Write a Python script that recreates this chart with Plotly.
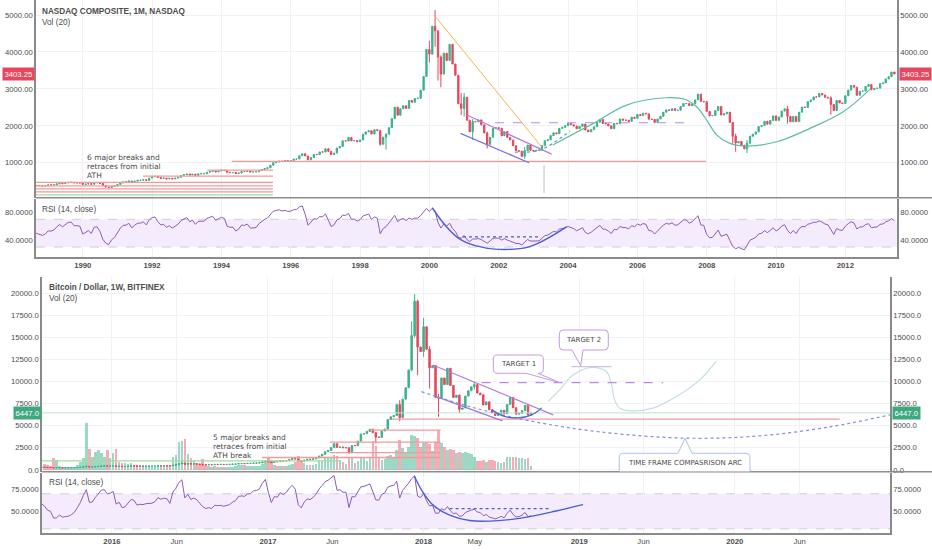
import numpy as np
import pandas as pd
import plotly.graph_objects as go

W, H = 932, 550

UP = "#3bb28a"
DOWN = "#e8465c"
VOL_UP = "rgba(59,178,138,0.5)"
VOL_DOWN = "rgba(232,70,92,0.45)"
RSI_LINE = "#8e5bb5"
RSI_BAND = "#f4ebfd"
GRID = "#f1f1f4"
AXIS = "#8a8a8a"
TEXT = "#4d4d4d"
SANS = "Liberation Sans, Arial, sans-serif"
NOTE = "DejaVu Sans, Verdana, sans-serif"

# ---------------- NASDAQ Composite, monthly closes, Jan 1987 .. Jun 2013 ----------------
nasdaq_start = "1987-01-01"
nasdaq_close = [
    392, 424, 430, 417, 416, 425, 435, 455, 444, 323, 305, 331,              # 1987
    345, 367, 374, 379, 370, 394, 387, 376, 387, 382, 372, 381,              # 1988
    401, 400, 406, 427, 446, 435, 453, 469, 472, 456, 456, 454,              # 1989
    415, 425, 435, 420, 459, 462, 438, 381, 344, 329, 359, 374,              # 1990
    414, 453, 482, 485, 506, 475, 502, 525, 527, 542, 523, 586,              # 1991
    620, 633, 603, 579, 585, 563, 580, 563, 583, 605, 652, 677,              # 1992
    696, 670, 690, 661, 700, 704, 704, 743, 763, 779, 754, 777,              # 1993
    800, 793, 743, 733, 735, 706, 723, 766, 764, 777, 750, 752,              # 1994
    755, 793, 817, 843, 864, 933, 1001, 1020, 1044, 1036, 1059, 1052,        # 1995
    1060, 1100, 1101, 1191, 1243, 1185, 1081, 1141, 1227, 1221, 1293, 1291,  # 1996
    1380, 1309, 1222, 1261, 1400, 1442, 1594, 1587, 1686, 1594, 1601, 1570,  # 1997
    1619, 1771, 1835, 1868, 1779, 1895, 1872, 1499, 1694, 1771, 1950, 2193,  # 1998
    2505, 2288, 2461, 2543, 2471, 2686, 2638, 2739, 2746, 2966, 3336, 4069,  # 1999
    3940, 4697, 4573, 3861, 3401, 3966, 3767, 4206, 3673, 3370, 2598, 2471,  # 2000
    2773, 2152, 1840, 2116, 2110, 2161, 2027, 1805, 1499, 1690, 1931, 1950,  # 2001
    1934, 1731, 1845, 1688, 1616, 1463, 1328, 1315, 1172, 1330, 1479, 1336,  # 2002
    1321, 1338, 1341, 1464, 1596, 1623, 1735, 1810, 1787, 1932, 1960, 2003,  # 2003
    2066, 2030, 1994, 1920, 1987, 2048, 1887, 1838, 1897, 1975, 2097, 2175,  # 2004
    2062, 2052, 1999, 1922, 2068, 2057, 2185, 2152, 2152, 2120, 2233, 2205,  # 2005
    2306, 2281, 2340, 2323, 2179, 2172, 2091, 2184, 2258, 2367, 2432, 2415,  # 2006
    2464, 2416, 2422, 2525, 2605, 2603, 2546, 2596, 2702, 2859, 2661, 2652,  # 2007
    2390, 2271, 2279, 2413, 2523, 2293, 2326, 2368, 2092, 1721, 1536, 1577,  # 2008
    1476, 1378, 1529, 1717, 1774, 1835, 1979, 2009, 2122, 2045, 2145, 2269,  # 2009
    2147, 2238, 2398, 2461, 2257, 2109, 2255, 2114, 2369, 2507, 2498, 2653,  # 2010
    2700, 2782, 2781, 2874, 2835, 2774, 2756, 2579, 2415, 2684, 2620, 2605,  # 2011
    2814, 2967, 3091, 3046, 2827, 2935, 2940, 3067, 3116, 2977, 3010, 3020,  # 2012
    3142, 3160, 3268, 3329, 3456, 3403.25,                                   # 2013
]
# months with visible wicks: (high, low)
nasdaq_wicks = {
    "1998-08": (1890, 1462), "1998-10": (1800, 1357),
    "2000-01": (4303, 3711), "2000-03": (5132, 4140), "2000-04": (4574, 3227),
    "2000-05": (3908, 3042), "2000-12": (2890, 2288), "2001-01": (2892, 2251),
    "2001-04": (2183, 1619), "2001-09": (1842, 1387), "2002-10": (1426, 1108),
    "2008-10": (2100, 1493), "2008-11": (1786, 1295), "2009-03": (1615, 1265),
    "2010-05": (2535, 2061), "2011-08": (2800, 2299),
}
nasdaq_last = "3403.25"

# ---------------- Bitcoin / Dollar, weekly closes, week of 5 Jan 2015 .. 10 Sep 2018 ----------------
btc_start = "2015-01-05"
btc_close = [
    270, 210, 255, 226, 227, 235, 245, 255, 275, 285, 262, 248, 255,                       # Jan-Mar 2015
    254, 222, 226, 236, 240, 237, 240, 230, 225, 233, 245, 250, 258, 290, 272, 290,       # Apr-Jul 2015
    281, 265, 260, 228, 229, 240, 230, 232, 233, 238, 246, 262, 284, 325, 372, 320,
    323, 357, 388, 434, 441, 422, 430,                                                     # to Dec 2015
    448, 385, 401, 368, 375, 405, 437, 432, 405, 412, 410, 417, 420,                       # 2016
    420, 430, 457, 451, 458, 456, 439, 525, 574, 680, 760, 630, 700,
    650, 675, 660, 620, 590, 570, 581, 573, 609, 606, 609, 602, 612,
    617, 640, 655, 700, 705, 703, 730, 732, 765, 770, 790, 890, 998,
    910, 820, 925, 920, 1020, 1000, 1050, 1170, 1270, 1230, 1020, 965, 1095,               # 2017
    1190, 1180, 1240, 1350, 1560, 1750, 2050, 2200, 2520, 2960, 2540, 2580, 2500,
    2500, 1920, 2750, 2740, 3250, 4050, 4100, 4350, 4600, 4200, 3700, 3680, 4400,
    4620, 5700, 6000, 6150, 7400, 5900, 8000, 9300, 11300, 15200, 19100, 13900, 13400,
    16200, 13650, 11550, 11800, 8200, 8100, 10400, 9650, 11500, 9550, 8200, 8450, 6850,    # 2018
    7000, 8350, 8950, 9400, 9650, 8700, 8500, 7350, 7700, 6800, 6500, 6150, 6400,
    6750, 6350, 7400, 8200, 7030, 6300, 6400, 6700, 7300, 6200, 6447,
]
# weekly volume, week of 27 Jul 2015 onwards (heights as read on the overlay)
btc_volume = [
    650, 500, 450, 1350, 1100, 450, 350, 300, 280, 300, 350, 550, 900, 1300, 5250, 2350,
    1500, 2050, 2250, 1900, 1500, 2300, 1300,
    1900, 2400, 900, 800, 750, 700, 800, 600, 550, 500, 450, 400, 380,
    350, 350, 500, 450, 400, 380, 420, 1500, 1700, 3200, 3300, 3500, 1800,
    1300, 1000, 800, 700, 1200, 500, 400, 350, 380, 350, 320, 300, 300,
    300, 350, 380, 500, 550, 500, 450, 400, 450, 400, 450, 700, 900,
    1300, 1100, 500, 400, 450, 400, 450, 550, 650, 900, 1600, 1000, 800,
    600, 500, 550, 700, 1100, 1000, 1300, 1400, 1500, 1700, 1600, 1100, 900,
    700, 1300, 1500, 800, 1000, 1500, 1400, 1000, 1300, 3300, 2700, 1400, 1100,
    1200, 1600, 1700, 1300, 2300, 3400, 2500, 2000, 2600, 3900, 3800, 3600, 2600,
    3000, 3200, 2900, 2100, 3200, 4500, 3000, 2600, 2200, 2400, 2200, 1900, 2000,
    1900, 2000, 1900, 1800, 1400, 1000, 950, 1100, 900, 1100, 1150, 1000, 900,
    800, 900, 1400, 1500, 1400, 1400, 1300, 1350, 1250, 1300, 400,
]
btc_wicks = {
    "2015-11-02": (502, 320), "2016-06-20": (770, 550), "2016-08-01": (630, 480),
    "2017-01-02": (1150, 850), "2017-07-10": (2570, 1830), "2017-09-11": (4300, 2980),
    "2017-11-06": (7880, 5500), "2017-12-04": (16800, 11150), "2017-12-11": (19900, 15000),
    "2017-12-18": (19250, 10700), "2018-01-01": (17200, 12800), "2018-01-15": (14000, 9200),
    "2018-02-05": (8600, 6000), "2018-03-26": (8550, 6450), "2018-04-30": (9990, 9100),
}
btc_last = "6447.0"

# ---------------- tick labels ----------------
top_ticks = ["%d-01-01" % y for y in range(1990, 2013, 2)]
top_text = ["<b>%d</b>" % y for y in range(1990, 2013, 2)]
btc_ticks = ["2016-01-01", "2016-06-01", "2017-01-01", "2017-06-01", "2018-01-01",
             "2018-05-01", "2019-01-01", "2019-06-01", "2020-01-01", "2020-06-01"]
btc_text = ["<b>2016</b>", "Jun", "<b>2017</b>", "Jun", "<b>2018</b>",
            "May", "<b>2019</b>", "Jun", "<b>2020</b>", "Jun"]


def px(x):
    return x / W


def py(y):
    return 1 - y / H


def ohlc(dates, closes, wicks, key_fmt):
    close = pd.Series(closes, index=dates, dtype=float)
    open_ = close.shift(1).fillna(close)
    both = pd.concat([open_, close], axis=1)
    high = both.max(axis=1)
    low = both.min(axis=1)
    keys = dates.strftime(key_fmt)
    for k, (h, l) in wicks.items():
        m = keys == k
        high[m] = h
        low[m] = l
    return open_, high, low, close


def rsi(closes, n=14):
    # Wilder's RSI, seeded with a simple average of the first n moves
    c = np.asarray(closes, dtype=float)
    d = np.diff(c, prepend=np.nan)
    gain = np.where(d > 0, d, 0.0)
    loss = np.where(d < 0, -d, 0.0)
    ag = np.full(len(c), np.nan)
    al = np.full(len(c), np.nan)
    ag[n] = gain[1:n + 1].mean()
    al[n] = loss[1:n + 1].mean()
    for i in range(n + 1, len(c)):
        ag[i] = (ag[i - 1] * (n - 1) + gain[i]) / n
        al[i] = (al[i - 1] * (n - 1) + loss[i]) / n
    return 100 - 100 / (1 + ag / al)


def line(xs, ys, xa, ya, color, width=1.2, dash=None, shape="linear"):
    return go.Scatter(x=xs, y=ys, xaxis=xa, yaxis=ya, mode="lines",
                      line=dict(color=color, width=width, dash=dash, shape=shape),
                      hoverinfo="skip", showlegend=False)


nq_dates = pd.date_range(nasdaq_start, periods=len(nasdaq_close), freq="MS")
nq_o, nq_h, nq_l, nq_c = ohlc(nq_dates, nasdaq_close, nasdaq_wicks, "%Y-%m")
nq_rsi = rsi(nasdaq_close)

bt_dates = pd.date_range(btc_start, periods=len(btc_close), freq="7D")
bt_o, bt_h, bt_l, bt_c = ohlc(bt_dates, btc_close, btc_wicks, "%Y-%m-%d")
bt_rsi = rsi(btc_close)
vol_dates = bt_dates[-len(btc_volume):]
vol_colors = [VOL_UP if c >= o else VOL_DOWN
              for o, c in zip(bt_o[-len(btc_volume):], bt_c[-len(btc_volume):])]

fig = go.Figure()

# ---- NASDAQ panel ----
fig.add_trace(go.Candlestick(
    x=nq_dates, open=nq_o, high=nq_h, low=nq_l, close=nq_c, xaxis="x", yaxis="y",
    increasing=dict(line=dict(color=UP, width=1), fillcolor=UP),
    decreasing=dict(line=dict(color=DOWN, width=1), fillcolor=DOWN),
    whiskerwidth=0, hoverinfo="skip", showlegend=False))
fig.add_trace(line(nq_dates, nq_rsi, "x", "y3", RSI_LINE, 1))
fig.add_trace(line(nq_dates[-1:], [nq_c.iloc[-1]], "x", "y2", "rgba(0,0,0,0)", 0))
fig.add_trace(line(nq_dates[-1:], [50], "x", "y4", "rgba(0,0,0,0)", 0))

# drawings on the NASDAQ chart
for x0, x1, p in [("1994-04-20", "2007-12-24", 1037), ("1993-08-04", "1995-06-28", 802),
                  ("1991-09-27", "1995-06-28", 639), ("1988-08-26", "1995-06-28", 469),
                  ("1988-08-26", "1995-06-28", 376), ("1988-08-26", "1995-06-28", 295),
                  ("1988-08-26", "1995-06-28", 214)]:
    fig.add_trace(line([x0, x1], [p, p], "x", "y", "#f29a9a", 1.3))
fig.add_trace(line(["1988-08-26", "1995-06-28"], [133, 133], "x", "y", "#9fdc9f", 1.3))
fig.add_trace(line(["2000-02-28", "2003-03-28"], [4973, 1433], "x", "y", "#f5b54a", 1))
fig.add_trace(line(["2001-01-30", "2003-07-12"], [2291, 1235], "x", "y", "#b57ad8", 1.2))
fig.add_trace(line(["2000-11-24", "2002-11-17"], [1796, 999], "x", "y", "#7d6fe0", 1.2))
fig.add_trace(line(["2001-11-22", "2007-05-27"], [2083, 2083], "x", "y", "#b98ae0", 1, "dash"))
fig.add_trace(line(["2002-06-21", "2003-03-10", "2004-01-19"], [1289, 1343, 1858],
                   "x", "y", "#6f8fd8", 1.2, "dot", "spline"))
fig.add_trace(line(["2003-04-23", "2003-04-23"], [937, 179], "x", "y", "#b7c2cc", 1))
fig.add_trace(line(
    ["2003-07-25", "2004-09-24", "2005-09-09", "2006-11-03", "2007-06-03", "2007-09-17",
     "2008-01-01", "2008-04-16", "2008-09-02", "2009-02-25", "2010-01-08", "2010-12-24",
     "2011-12-09", "2012-09-16"],
    [1479, 2067, 2562, 2760, 2698, 2516, 2156, 1750, 1525, 1452, 1568, 1931, 2381, 2988],
    "x", "y", "#5cbf9c", 1.2, None, "spline"))
fig.add_trace(line(
    ["2000-01-30", "2000-07-01", "2000-11-17", "2001-04-27", "2001-12-28", "2002-11-24", "2003-12-16"],
    [86.7, 59.0, 41.4, 32.1, 26.7, 30.7, 59.0], "x", "y3", "#4a5fd0", 1.4, None, "spline"))
fig.add_trace(line(["2000-12-20", "2003-03-10"], [44.7, 44.7], "x", "y3", "#4a5fd0", 1.2, "dot"))

# ---- Bitcoin panel ----
fig.add_trace(go.Bar(x=vol_dates, y=btc_volume, xaxis="x2", yaxis="y5",
                     marker=dict(color=vol_colors, line=dict(width=0)),
                     width=6 * 86400000, hoverinfo="skip", showlegend=False))
fig.add_trace(go.Candlestick(
    x=bt_dates, open=bt_o, high=bt_h, low=bt_l, close=bt_c, xaxis="x2", yaxis="y5",
    increasing=dict(line=dict(color=UP, width=1), fillcolor=UP),
    decreasing=dict(line=dict(color=DOWN, width=1), fillcolor=DOWN),
    whiskerwidth=0, hoverinfo="skip", showlegend=False))
fig.add_trace(line(bt_dates, bt_rsi, "x2", "y8", RSI_LINE, 1))
fig.add_trace(line(bt_dates[-1:], [bt_c.iloc[-1]], "x2", "y6", "rgba(0,0,0,0)", 0))
fig.add_trace(line(bt_dates[-1:], [50], "x2", "y9", "rgba(0,0,0,0)", 0))

for x0, x1, p in [("2017-10-18", "2020-09-03", 5735), ("2017-08-28", "2018-02-10", 4491),
                  ("2017-05-26", "2018-02-10", 3133), ("2017-05-26", "2018-02-10", 1957),
                  ("2016-12-18", "2018-02-10", 1391)]:
    fig.add_trace(line([x0, x1], [p, p], "x2", "y5", "#f29a9a", 1.3))
fig.add_trace(line(["2015-07-21", "2017-06-18"], [1018, 1018], "x2", "y5", "#9fdc9f", 1.3))
fig.add_trace(line(["2015-07-21", "2020-12-30"], [6447, 6447], "x2", "y5", "#b5e3cc", 1))
fig.add_trace(line(["2018-01-23", "2018-11-01"], [11878, 6222], "x2", "y5", "#b57ad8", 1.2))
fig.add_trace(line(["2018-01-31", "2018-07-05"], [8292, 5543], "x2", "y5", "#9b7ae0", 1.2))
fig.add_trace(line(
    ["2017-12-27", "2018-04-19", "2018-09-07", "2019-02-18", "2019-09-09", "2020-02-29",
     "2020-08-11", "2020-12-30"],
    [8857, 7161, 5543, 4299, 3586, 3846, 4864, 6222], "x2", "y5", "#7f8fdc", 1.2, "dot", "spline"))
fig.add_trace(line(["2018-06-10", "2018-07-10", "2018-08-10", "2018-09-12", "2018-10-05"],
                   [6787, 6052, 5882, 6222, 7014], "x2", "y5", "#4a6ad6", 1.3, None, "spline"))
fig.add_trace(line(
    ["2018-10-20", "2018-11-16", "2018-12-17", "2019-01-18", "2019-02-11", "2019-03-06",
     "2019-03-18", "2019-03-25", "2019-04-06", "2019-05-07", "2019-06-23", "2019-08-17",
     "2019-10-11", "2019-11-19"],
    [7726, 9050, 10747, 11505, 11572, 11120, 9615, 7919, 6980, 6674, 6980, 8292, 10181, 12330],
    "x2", "y5", "#c3dde3", 1.2, None, "spline"))
fig.add_trace(line(["2018-12-14", "2019-03-18"], [11686, 11686], "x2", "y5", "#ccc4dc", 1.2))
fig.add_trace(line(["2018-05-17", "2019-07-17"], [9876, 9876], "x2", "y5", "#c08ae6", 1.2, "dash"))
fig.add_trace(line(
    ["2017-12-10", "2017-12-28", "2018-01-24", "2018-03-03", "2018-04-19", "2018-06-05",
     "2018-07-22", "2018-09-07", "2018-11-05", "2019-01-10"],
    [90.5, 73.7, 56.8, 45.6, 39.5, 38.9, 40.6, 44.0, 50.1, 57.6],
    "x2", "y8", "#4a5fd0", 1.4, None, "spline"))
fig.add_trace(line(["2018-03-03", "2018-10-28"], [53.1, 53.1], "x2", "y8", "#4a5fd0", 1.2, "dot"))

# ---- shapes ----
shapes = []
for xa, ya in [("x", "y3"), ("x2", "y8")]:
    shapes.append(dict(type="rect", xref=xa + " domain", x0=0, x1=1, yref=ya, y0=30, y1=70,
                       fillcolor=RSI_BAND, line=dict(width=0), layer="below"))
    for lvl in (30, 70):
        shapes.append(dict(type="line", xref=xa + " domain", x0=0, x1=1, yref=ya, y0=lvl, y1=lvl,
                           line=dict(color="#c9c4d2", width=0.8, dash="dash"), layer="below"))
for x0, y in [(36, 197.7), (42, 471.7)]:
    shapes.append(dict(type="line", xref="paper", yref="paper", x0=px(x0), x1=1, y0=py(y), y1=py(y),
                       line=dict(color="#8c8c8c", width=1.6)))


def P(x, y):
    return "%.5f,%.5f" % (px(x), py(y))


def bubble(x0, y0, x1, y1, b0, b1, tip, color, top=False, r=4):
    if not top:
        d = (f"M{P(x0 + r, y0)} L{P(x1 - r, y0)} Q{P(x1, y0)} {P(x1, y0 + r)} L{P(x1, y1 - r)} "
             f"Q{P(x1, y1)} {P(x1 - r, y1)} L{P(b1, y1)} L{P(*tip)} L{P(b0, y1)} L{P(x0 + r, y1)} "
             f"Q{P(x0, y1)} {P(x0, y1 - r)} L{P(x0, y0 + r)} Q{P(x0, y0)} {P(x0 + r, y0)} Z")
    else:
        d = (f"M{P(x0, y1)} L{P(x0, y0 + r)} Q{P(x0, y0)} {P(x0 + r, y0)} L{P(b0, y0)} L{P(*tip)} "
             f"L{P(b1, y0)} L{P(x1 - r, y0)} Q{P(x1, y0)} {P(x1, y0 + r)} L{P(x1, y1)}")
    return dict(type="path", path=d, xref="paper", yref="paper",
                fillcolor="rgba(255,255,255,0.92)", line=dict(color=color, width=1))


shapes.append(bubble(493.3, 355, 543.3, 373.3, 526, 538, (560, 382.7), "#c49be0"))
shapes.append(bubble(559.3, 330, 608.3, 350, 572, 583, (580.7, 365.7), "#c49be0"))
shapes.append(bubble(619.3, 453.3, 750, 471.5, 678, 692, (685, 438.3), "#a9c4e6", top=True))

# ---- text ----
ann = []


def label(x, y, text, size=8, color=TEXT, family=SANS, anchor="left", bg=None):
    ann.append(dict(xref="paper", yref="paper", x=px(x), y=py(y), text=text, showarrow=False,
                    xanchor=anchor, yanchor="middle", bgcolor=bg, borderpad=1.5 if bg else 0,
                    font=dict(size=size, color=color, family=family)))


label(41, 11, "<b>NASDAQ COMPOSITE, 1M, NASDAQ</b>", 8.2)
label(41, 22.7, "Vol (20)", 8.2)
label(41, 209.7, "RSI (14, close)", 8.2)
label(48, 287.7, "<b>Bitcoin / Dollar, 1W, BITFINEX</b>", 8.2)
label(48, 299, "Vol (20)", 8.2)
label(48, 482.7, "RSI (14, close)", 8.2)
for i, t in enumerate(["6 major breaks and", "retraces from initial", "ATH"]):
    label(85.5, 157.6 + 8.8 * i, t, 7.5, "#4a4a4a", NOTE)
for i, t in enumerate(["5 major breaks and", "retraces from initial", "ATH break"]):
    label(211.5, 437.6 + 8.8 * i, t, 7.5, "#4a4a4a", NOTE)
label(518.3, 364.2, "TARGET 1", 7, "#4a4a4a", NOTE, "center")
label(583.8, 340, "TARGET 2", 7, "#4a4a4a", NOTE, "center")
label(684.6, 462.7, "TIME FRAME COMPASRISON ARC", 7, "#4a4a4a", NOTE, "center")
label(18.5, 74, nasdaq_last, 7.7, "white", SANS, "center", "#e8465c")
label(915, 74, nasdaq_last, 7.7, "white", SANS, "center", "#e8465c")
label(27, 413, btc_last, 7.7, "white", SANS, "center", "#3fa87f")
label(906, 413, btc_last, 7.7, "white", SANS, "center", "#3fa87f")

# ---- axes ----
tick_font = dict(size=7.7, color=TEXT, family=SANS)
base_x = dict(type="date", showgrid=True, gridcolor=GRID, showline=True, linecolor=AXIS,
              linewidth=1.5, ticks="", zeroline=False, rangeslider=dict(visible=False),
              tickfont=tick_font, automargin=False)
base_y = dict(showline=True, linecolor=AXIS, linewidth=1.5, ticks="", zeroline=False,
              tickfont=tick_font, automargin=False)

nq_range = [57, 5406]
bt_range = [-192, 21838]
nq_ticks = [1000, 2000, 3000, 4000, 5000]
bt_ticks = [0, 2500, 5000, 7500, 10000, 12500, 15000, 17500, 20000]

fig.update_layout(
    width=W, height=H, margin=dict(l=0, r=0, t=0, b=0),
    paper_bgcolor="white", plot_bgcolor="white", showlegend=False,
    font=dict(family=SANS, size=8, color=TEXT), bargap=0,
    xaxis=dict(base_x, domain=[px(36), px(897)], range=["1988-08-26", "2013-06-28"],
               anchor="y3", tickvals=top_ticks, ticktext=top_text),
    yaxis=dict(base_y, domain=[py(197.6), 1], range=nq_range, anchor="x", side="left",
               tickvals=nq_ticks, tickformat=".2f", showgrid=True, gridcolor=GRID),
    yaxis2=dict(base_y, overlaying="y", anchor="x", side="right", range=nq_range,
                tickvals=nq_ticks, tickformat=".2f", showgrid=False),
    yaxis3=dict(base_y, domain=[py(257), py(198.5)], range=[15.7, 100], anchor="x", side="left",
                tickvals=[40, 80], tickformat=".4f", showgrid=False),
    yaxis4=dict(base_y, overlaying="y3", anchor="x", side="right", range=[15.7, 100],
                tickvals=[40, 80], tickformat=".4f", showgrid=False),
    xaxis2=dict(base_x, domain=[px(42), px(890)], range=["2015-07-21", "2020-12-30"],
                anchor="y8", tickvals=btc_ticks, ticktext=btc_text),
    yaxis5=dict(base_y, domain=[py(471.5), py(277)], range=bt_range, anchor="x2", side="left",
                tickvals=bt_ticks, tickformat=".1f", showgrid=True, gridcolor=GRID),
    yaxis6=dict(base_y, overlaying="y5", anchor="x2", side="right", range=bt_range,
                tickvals=bt_ticks, tickformat=".1f", showgrid=False),
    yaxis8=dict(base_y, domain=[py(533.3), py(472.5)], range=[25, 94.2], anchor="x2", side="left",
                tickvals=[50, 75], tickformat=".4f", showgrid=False),
    yaxis9=dict(base_y, overlaying="y8", anchor="x2", side="right", range=[25, 94.2],
                tickvals=[50, 75], tickformat=".4f", showgrid=False),
    shapes=shapes, annotations=ann,
)

# the page's default 8px body margin would shift the 932x550 figure; remove it
fig.write_html("out.html", config={"displayModeBar": False},
               post_script="document.body.style.margin='0';document.body.style.overflow='hidden';")
